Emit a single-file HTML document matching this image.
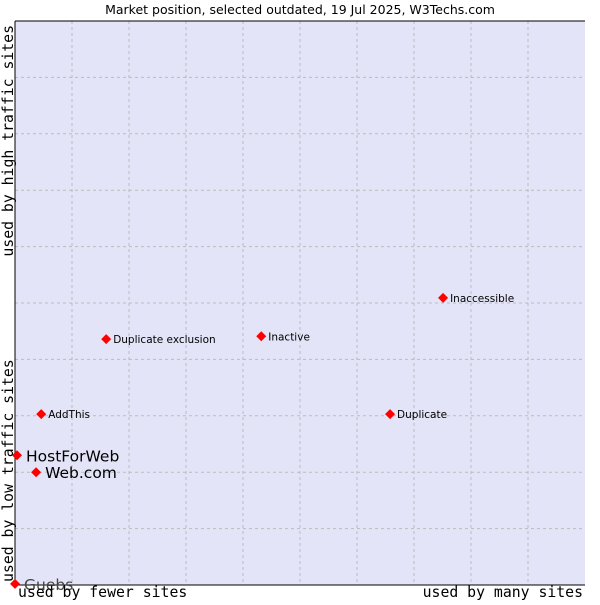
<!DOCTYPE html>
<html><head><meta charset="utf-8"><style>
body{margin:0;background:#fff;}
svg text{font-family:"DejaVu Sans","Liberation Sans",sans-serif;}
.mono{font-family:"DejaVu Sans Mono","Liberation Mono",monospace;font-size:14.8px;fill:#000;}
</style></head><body>
<svg id="chart" width="600" height="600" xmlns="http://www.w3.org/2000/svg">
<text x="300" y="14" text-anchor="middle" font-size="12.5">Market position, selected outdated, 19 Jul 2025, W3Techs.com</text>
<rect x="15" y="21" width="570" height="564" fill="#e4e4f8"/>
<g id="grid"></g>
<line x1="15" y1="21" x2="585" y2="21" stroke="#000"/>
<line x1="15" y1="21" x2="15" y2="585" stroke="#000"/>
<line x1="15" y1="585" x2="585" y2="585" stroke="#000"/>
<g id="points"></g>
<text class="mono" x="18" y="597">used by fewer sites</text>
<text class="mono" x="583" y="597" text-anchor="end">used by many sites</text>
<text class="mono" transform="translate(13,582) rotate(-90)">used by low traffic sites</text>
<text class="mono" transform="translate(13,25) rotate(-90)" text-anchor="end">used by high traffic sites</text>
</svg>
<script>
const names=["Guebs","HostForWeb","Web.com","AddThis","Duplicate exclusion","Inactive","Duplicate","Inaccessible"];
const xVals=[0,0.35,3.7,4.6,16,43.2,65.8,75.1];
const yVals=[0.2,23,20,30.3,43.6,44.1,30.3,50.9];
const bigLabel=[true,true,true,false,false,false,false,false];
const NS="http://www.w3.org/2000/svg";
const X0=15,X1=585,Y0=585,Y1=21;
const sx=v=>X0+(X1-X0)*v/100, sy=v=>Y0-(Y0-Y1)*v/100;
const grid=document.getElementById('grid');
for(let i=1;i<10;i++){
 let l=document.createElementNS(NS,'line');
 
 
 l.setAttribute('x1',sx(i*10));l.setAttribute('x2',sx(i*10));l.setAttribute('y1',Y1);l.setAttribute('y2',Y0);
 l.setAttribute('stroke','#bbb');l.setAttribute('stroke-dasharray','3,3');grid.appendChild(l);
 let h=document.createElementNS(NS,'line');
 
 
 h.setAttribute('y1',sy(i*10));h.setAttribute('y2',sy(i*10));h.setAttribute('x1',X0);h.setAttribute('x2',X1);
 h.setAttribute('stroke','#bbb');h.setAttribute('stroke-dasharray','3,3');grid.appendChild(h);
}
const pts=document.getElementById('points');
names.forEach((n,i)=>{
 const x=sx(xVals[i]),y=sy(yVals[i]);
 const p=document.createElementNS(NS,'polygon');
 
 
 p.setAttribute('points',`${x},${y-5} ${x+5},${y} ${x},${y+5} ${x-5},${y}`);
 p.setAttribute('fill','#f00');pts.appendChild(p);
 const t=document.createElementNS(NS,'text');
 
 
 t.setAttribute('x',x+(bigLabel[i]?9:7));t.setAttribute('y',y+(bigLabel[i]?6:4));
 t.setAttribute('font-size',bigLabel[i]?'15.5':'10.5');
 t.setAttribute('fill',i===0?'#444':'#000');
 t.textContent=n;pts.appendChild(t);
});
</script>
</body></html>
